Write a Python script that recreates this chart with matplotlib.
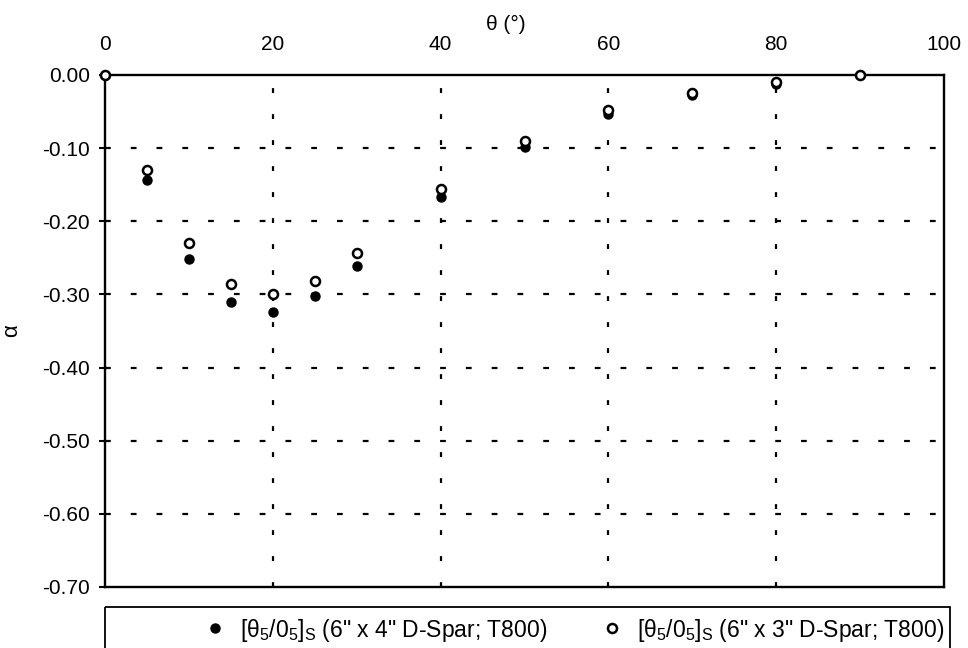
import matplotlib.pyplot as plt
from matplotlib.patches import Rectangle

plt.rcParams['font.family'] = ['Liberation Sans', 'DejaVu Sans']
plt.rcParams['axes.unicode_minus'] = False
plt.rcParams['mathtext.default'] = 'regular'

# ply angle theta (deg) and coupling coefficient alpha for the two spars
theta = [0, 5, 10, 15, 20, 25, 30, 40, 50, 60, 70, 80, 90]
alpha_4in = [0.0, -0.144, -0.252, -0.311, -0.324, -0.302, -0.261,
             -0.167, -0.098, -0.053, -0.027, -0.012, 0.0]
alpha_3in = [0.0, -0.130, -0.230, -0.286, -0.300, -0.281, -0.243,
             -0.156, -0.090, -0.048, -0.025, -0.010, 0.0]

label_4in = '[θ$_5$/0$_5$]$_S$ (6" x 4" D-Spar; T800)'
label_3in = '[θ$_5$/0$_5$]$_S$ (6" x 3" D-Spar; T800)'

xticks = [0, 20, 40, 60, 80, 100]
yticks = [0.0, -0.1, -0.2, -0.3, -0.4, -0.5, -0.6, -0.7]

FS = 15

fig = plt.figure(figsize=(9.68, 6.48), dpi=100)
ax = fig.add_axes([105 / 968, 1 - 587 / 648, 839 / 968, 512 / 648])

ax.plot(theta, alpha_4in, 'o', color='k', ms=6.5, ls='none',
        label=label_4in, zorder=4, clip_on=False)
ax.plot(theta, alpha_3in, 'o', mfc='white', mec='k', mew=1.8, ms=6.5,
        ls='none', label=label_3in, zorder=5, clip_on=False)

ax.set_xlim(0, 100)
ax.set_ylim(-0.7, 0.0)
ax.set_xticks(xticks)
ax.set_yticks(yticks)
ax.set_yticklabels(['%.2f' % v for v in yticks])

# x axis sits on top
ax.xaxis.tick_top()
ax.xaxis.set_label_position('top')
ax.tick_params(axis='x', length=0, pad=15, labelsize=FS)
ax.tick_params(axis='y', length=4, width=1.5, direction='out', pad=7,
               labelsize=FS)

ax.set_xlabel('θ (°)', fontsize=FS)
ax.xaxis.set_label_coords((506 - 105) / 839, 1 + 45 / 512)
ax.set_ylabel('α', fontsize=16)
ax.yaxis.set_label_coords(-83 / 839, 0.5)

# dotted grid
for x in xticks[1:-1]:
    ax.axvline(x, color='k', lw=1.6, ls=(0, (2.2, 9.5)), zorder=1)
for y in yticks[1:-1]:
    ax.axhline(y, color='k', lw=1.6, ls=(0, (2.6, 9.0)), zorder=1)

for s in ax.spines.values():
    s.set_linewidth(1.7)
    s.set_color('k')

# legend box under the plot, running off the bottom of the page
box = Rectangle((0, -20 / 512), 845 / 839, -48 / 512, transform=ax.transAxes,
                fill=False, ec='k', lw=1.3, clip_on=False)
ax.add_patch(box)

leg = ax.legend(loc='center right', bbox_to_anchor=(1.0, -43 / 512),
                ncol=2, borderaxespad=0, borderpad=0, frameon=False,
                fontsize=16.5, handlelength=1.0, handletextpad=0.6,
                columnspacing=2.3)

plt.savefig('out.png', dpi=100)
